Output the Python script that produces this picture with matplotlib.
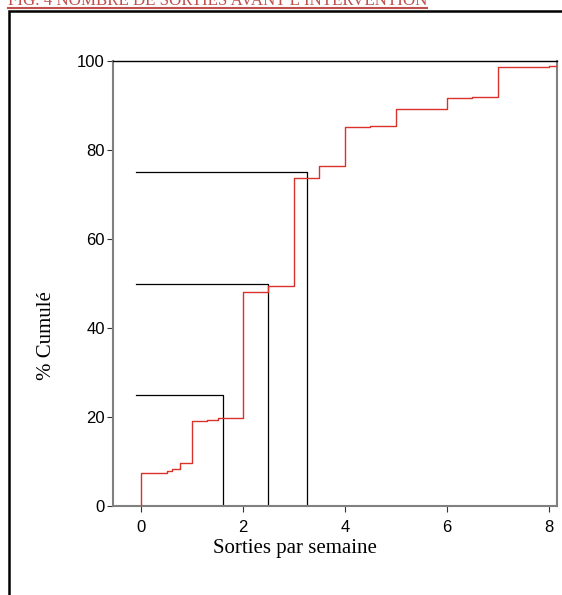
import matplotlib.pyplot as plt
from matplotlib.patches import Rectangle
from matplotlib.lines import Line2D

# cumulative % of patients by outings per week
sorties = [0, 0, 0.5, 0.6, 0.77, 1.0, 1.29, 1.5, 2.0, 2.5, 3.0, 3.5,
           4.0, 4.5, 5.0, 6.0, 6.5, 7.0, 8.0, 8.16]
cumul = [0, 7.4, 7.8, 8.3, 9.6, 19.0, 19.3, 19.8, 48.2, 49.4, 73.6, 76.5,
         85.2, 85.5, 89.2, 91.6, 92.0, 98.6, 98.9, 98.9]

# quartiles
quart_pct = [25, 50, 75]
quart_x = [1.6, 2.5, 3.25]

x_ticks = [0, 2, 4, 6, 8]
y_ticks = [0, 20, 40, 60, 80, 100]

W, H = 562, 595
fig = plt.figure(figsize=(W / 100, H / 100), dpi=100)
ax = fig.add_axes([113 / W, 1 - 506 / H, (557 - 113) / W, (506 - 61) / H])

# red step curve
ax.plot(sorties, cumul, drawstyle="steps-post", color="#d8322b", lw=1.0, zorder=3)

# quartile guide lines
for p, q in zip(quart_pct, quart_x):
    ax.plot([-0.1, q, q], [p, p, 0], color="black", lw=0.9, zorder=2)

ax.set_xlim(-0.55, 8.16)
ax.set_ylim(0, 100)
ax.set_xticks(x_ticks)
ax.set_yticks(y_ticks)
ax.tick_params(length=4, width=0.8, color="#333333", labelsize=12, pad=2)
ax.tick_params(axis="x", pad=6)
for lab in ax.get_xticklabels() + ax.get_yticklabels():
    lab.set_family("Liberation Sans")

for side in ["left", "bottom", "right"]:
    ax.spines[side].set_color("#808080")
    ax.spines[side].set_linewidth(1.5)
ax.spines["top"].set_color("black")
ax.spines["top"].set_linewidth(1.0)

ax.set_xlabel("Sorties par semaine", family="Liberation Serif", fontsize=15)
ax.set_ylabel("% Cumulé", family="Liberation Serif", fontsize=15)
ax.xaxis.set_label_coords(0.409, -0.074)
ax.yaxis.set_label_coords(-0.128, 0.384)

# figure caption, partly cut at the top, and page frame
fig.text(8 / W, 1 - 5 / H, "FIG. 4 NOMBRE DE SORTIES AVANT L\u2019INTERVENTION",
         family="Liberation Serif", fontsize=12.2, color="#c0504d",
         ha="left", va="baseline")
fig.add_artist(Line2D([8 / W, 427 / W], [1 - 7.5 / H, 1 - 7.5 / H],
                      color="#c0504d", lw=1.5, transform=fig.transFigure))
fig.add_artist(Rectangle((9 / W, -0.05), 1.0, 1 - 10.5 / H + 0.05,
                         fill=False, ec="black", lw=1.8,
                         transform=fig.transFigure))

fig.savefig("out.png", dpi=100)
